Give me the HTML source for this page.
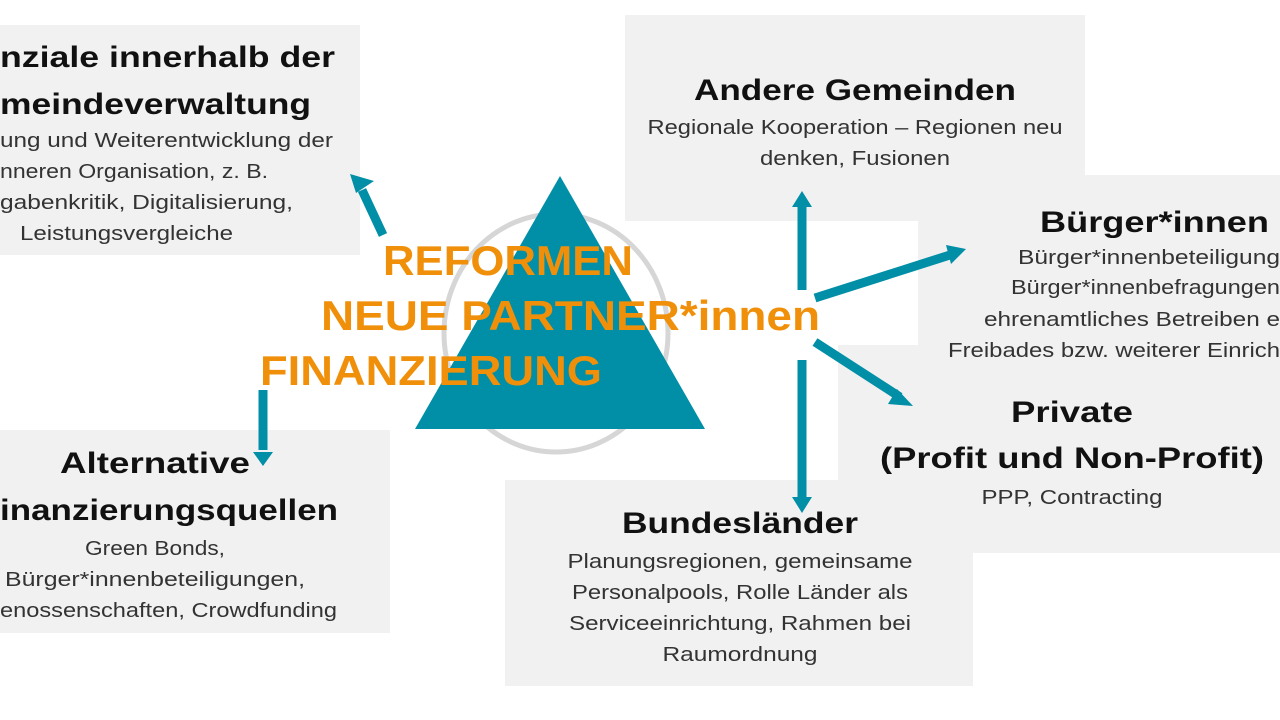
<!DOCTYPE html>
<html><head><meta charset="utf-8"><style>
html,body{margin:0;padding:0;background:#fff;width:1280px;height:720px;overflow:hidden}
svg{display:block}
text{font-family:"Liberation Sans",sans-serif}
.t{font-weight:bold;font-size:30px;fill:#111}
.b{font-size:20px;fill:#333}
.o{font-weight:bold;font-size:42px;fill:#f0900a}
</style></head><body>
<svg width="1280" height="720" viewBox="0 0 1280 720">
<g fill="#f1f1f1">
<rect x="0" y="25" width="360" height="230"/>
<rect x="625" y="15" width="460" height="206"/>
<rect x="918" y="175" width="362" height="172"/>
<rect x="838" y="345" width="442" height="208"/>
<rect x="505" y="480" width="468" height="206"/>
<rect x="0" y="430" width="390" height="203"/>
</g>
<ellipse cx="556" cy="333" rx="112" ry="119" fill="none" stroke="#d6d6d6" stroke-width="5"/>
<polygon points="560,176 415,429 705,429" fill="#008fa6"/>
<g stroke="#008fa6" stroke-width="9" fill="#008fa6">
<line x1="383" y1="235" x2="362" y2="190"/>
<line x1="263" y1="390" x2="263" y2="450"/>
<line x1="802" y1="290" x2="802" y2="205"/>
<line x1="815" y1="298" x2="950" y2="255"/>
<line x1="815" y1="342" x2="900" y2="397"/>
<line x1="802" y1="360" x2="802" y2="498"/>
</g>
<g fill="#008fa6">
<polygon points="350,174 374,181 356,193"/>
<polygon points="253,452 273,452 263,466"/>
<polygon points="792,207 812,207 802,191"/>
<polygon points="966,249 946,245 951,264"/>
<polygon points="913,406 897,389 888,404"/>
<polygon points="792,497 812,497 802,513"/>
</g>
<text class="o" x="383" y="275" textLength="250" lengthAdjust="spacingAndGlyphs">REFORMEN</text>
<text class="o" x="321" y="330" textLength="499" lengthAdjust="spacingAndGlyphs">NEUE PARTNER*innen</text>
<text class="o" x="260" y="385" textLength="342" lengthAdjust="spacingAndGlyphs">FINANZIERUNG</text>

<g text-anchor="end">
<text class="t" x="335" y="67" textLength="335" lengthAdjust="spacingAndGlyphs">nziale innerhalb der</text>
<text class="t" x="311" y="114" textLength="311" lengthAdjust="spacingAndGlyphs">meindeverwaltung</text>
<text class="b" x="333" y="147" textLength="333" lengthAdjust="spacingAndGlyphs">ung und Weiterentwicklung der</text>
<text class="b" x="268" y="178" textLength="268" lengthAdjust="spacingAndGlyphs">nneren Organisation, z. B.</text>
<text class="b" x="293" y="209" textLength="293" lengthAdjust="spacingAndGlyphs">gabenkritik, Digitalisierung,</text>
<text class="b" x="233" y="240" textLength="213" lengthAdjust="spacingAndGlyphs">Leistungsvergleiche</text>
<text class="t" x="338" y="520" textLength="338" lengthAdjust="spacingAndGlyphs">inanzierungsquellen</text>
<text class="b" x="305" y="586" textLength="300" lengthAdjust="spacingAndGlyphs">Bürger*innenbeteiligungen,</text>
<text class="b" x="337" y="617" textLength="337" lengthAdjust="spacingAndGlyphs">enossenschaften, Crowdfunding</text>
</g>
<g text-anchor="middle">
<text class="t" x="155" y="473" textLength="190" lengthAdjust="spacingAndGlyphs">Alternative</text>
<text class="b" x="155" y="555" textLength="140" lengthAdjust="spacingAndGlyphs">Green Bonds,</text>
<text class="t" x="855" y="100" textLength="322" lengthAdjust="spacingAndGlyphs">Andere Gemeinden</text>
<text class="b" x="855" y="134" textLength="415" lengthAdjust="spacingAndGlyphs">Regionale Kooperation – Regionen neu</text>
<text class="b" x="855" y="165" textLength="190" lengthAdjust="spacingAndGlyphs">denken, Fusionen</text>
<text class="t" x="1072" y="422" textLength="122" lengthAdjust="spacingAndGlyphs">Private</text>
<text class="t" x="1072" y="468" textLength="384" lengthAdjust="spacingAndGlyphs">(Profit und Non-Profit)</text>
<text class="b" x="1072" y="504" textLength="181" lengthAdjust="spacingAndGlyphs">PPP, Contracting</text>
<text class="t" x="740" y="533" textLength="236" lengthAdjust="spacingAndGlyphs">Bundesländer</text>
<text class="b" x="740" y="568" textLength="345" lengthAdjust="spacingAndGlyphs">Planungsregionen, gemeinsame</text>
<text class="b" x="740" y="599" textLength="336" lengthAdjust="spacingAndGlyphs">Personalpools, Rolle Länder als</text>
<text class="b" x="740" y="630" textLength="342" lengthAdjust="spacingAndGlyphs">Serviceeinrichtung, Rahmen bei</text>
<text class="b" x="740" y="661" textLength="155" lengthAdjust="spacingAndGlyphs">Raumordnung</text>
</g>
<text class="t" x="1040" y="232" textLength="229" lengthAdjust="spacingAndGlyphs">Bürger*innen</text>
<text class="b" x="1018" y="264" textLength="262" lengthAdjust="spacingAndGlyphs">Bürger*innenbeteiligung</text>
<text class="b" x="1011" y="294" textLength="269" lengthAdjust="spacingAndGlyphs">Bürger*innenbefragungen</text>
<text class="b" x="984" y="326" textLength="296" lengthAdjust="spacingAndGlyphs">ehrenamtliches Betreiben e</text>
<text class="b" x="948" y="357" textLength="332" lengthAdjust="spacingAndGlyphs">Freibades bzw. weiterer Einrich</text>
</svg>
</body></html>
